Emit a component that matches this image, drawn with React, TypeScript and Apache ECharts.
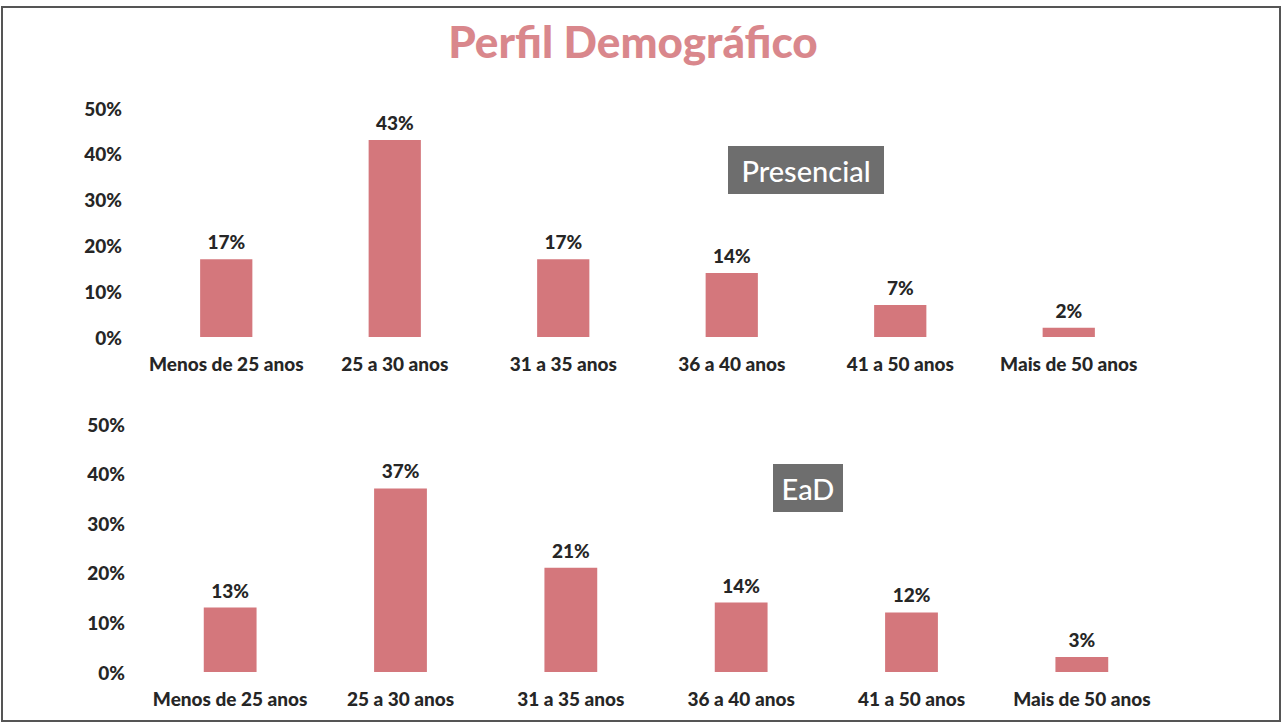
import React, { useEffect, useRef } from "react";
import * as echarts from "echarts";

const categories = ["Menos de 25 anos", "25 a 30 anos", "31 a 35 anos", "36 a 40 anos", "41 a 50 anos", "Mais de 50 anos"];
const presencialValues = [17, 43, 17, 14, 7, 2];
const eadValues = [13, 37, 21, 14, 12, 3];
const titleText = "Perfil Demográfico";
const panelLabels = ["Presencial", "EaD"];

const FONT = "Lato, 'Open Sans', sans-serif";
const BAR = "#d4777c";
const TEXT = "#262626";

export default function App() {
  const ref = useRef<HTMLDivElement>(null);
  useEffect(() => {
    if (!ref.current) return;
    const chart = echarts.init(ref.current, null, { renderer: "svg" });
    const yAxisBase = {
      type: "value",
      min: 0,
      max: 50,
      interval: 10,
      axisLine: { show: false },
      axisTick: { show: false },
      splitLine: { show: false },
      axisLabel: { formatter: "{value}%", color: TEXT, fontFamily: FONT, fontWeight: 900, fontSize: 19, margin: 20 },
    };
    const xAxisBase = {
      type: "category",
      data: categories,
      axisLine: { show: false },
      axisTick: { show: false },
      axisLabel: { color: TEXT, fontFamily: FONT, fontWeight: 900, fontSize: 19, margin: 17, interval: 0 },
    };
    const seriesBase = {
      type: "bar",
      barWidth: "31%",
      itemStyle: { color: BAR },
      label: { show: true, position: "top", formatter: "{c}%", color: TEXT, fontFamily: FONT, fontWeight: 900, fontSize: 19, distance: 8 },
    };
    chart.setOption({
      animation: false,
      backgroundColor: "#ffffff",
      title: {
        text: titleText,
        left: 628,
        textAlign: "center",
        top: 14,
        textStyle: { color: "#d9878c", fontFamily: FONT, fontWeight: 900, fontSize: 44 },
      },
      grid: [
        { left: 142, top: 108, width: 1011, height: 229 },
        { left: 145, top: 424, width: 1022, height: 248 },
      ],
      xAxis: [
        { ...xAxisBase, gridIndex: 0 },
        { ...xAxisBase, gridIndex: 1 },
      ],
      yAxis: [
        { ...yAxisBase, gridIndex: 0 },
        { ...yAxisBase, gridIndex: 1 },
      ],
      series: [
        { ...seriesBase, name: panelLabels[0], xAxisIndex: 0, yAxisIndex: 0, data: presencialValues },
        { ...seriesBase, name: panelLabels[1], xAxisIndex: 1, yAxisIndex: 1, data: eadValues },
      ],
      graphic: [
        {
          type: "rect",
          shape: { x: 2, y: 7, width: 1278, height: 714 },
          style: { fill: "none", stroke: "#555555", lineWidth: 2 },
          silent: true,
        },
        {
          type: "rect",
          shape: { x: 728, y: 146, width: 156, height: 48 },
          style: { fill: "#6e6e6e" },
        },
        {
          type: "text",
          x: 806,
          y: 170,
          style: { text: panelLabels[0], fill: "#ffffff", font: `500 29px ${FONT}`, align: "center", verticalAlign: "middle" },
        },
        {
          type: "rect",
          shape: { x: 773, y: 464, width: 70, height: 48 },
          style: { fill: "#6e6e6e" },
        },
        {
          type: "text",
          x: 808,
          y: 488,
          style: { text: panelLabels[1], fill: "#ffffff", font: `500 29px ${FONT}`, align: "center", verticalAlign: "middle" },
        },
      ],
    });
    return () => chart.dispose();
  }, []);
  return <div ref={ref} style={{ position: "absolute", left: 0, top: 0, width: 1283, height: 724 }} />;
}
